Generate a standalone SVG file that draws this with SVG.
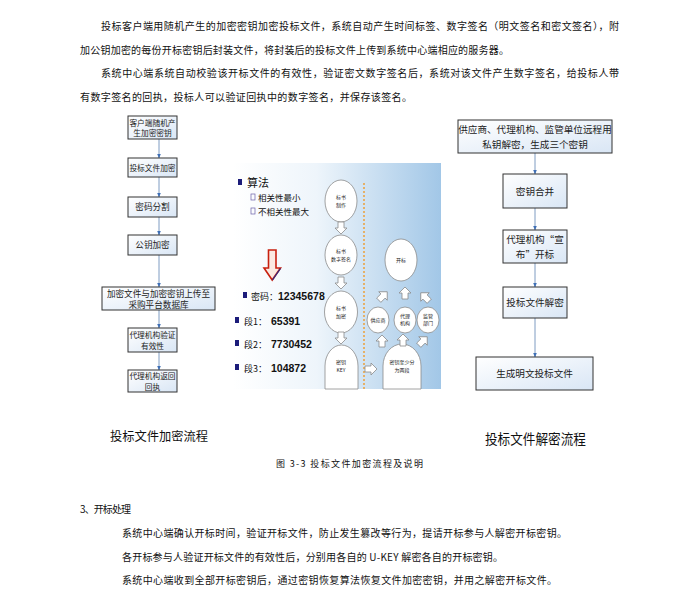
<svg xmlns="http://www.w3.org/2000/svg" width="700" height="598" viewBox="0 0 700 598">
<defs>
<linearGradient id="boxg" x1="0" y1="0" x2="1" y2="1">
<stop offset="0" stop-color="#ffffff"/><stop offset="1" stop-color="#d9e6f5"/>
</linearGradient>
<linearGradient id="bg" x1="0" y1="0" x2="1" y2="0">
<stop offset="0" stop-color="#ffffff"/><stop offset="0.4" stop-color="#eef5fb"/><stop offset="1" stop-color="#a2c7e7"/>
</linearGradient>
<marker id="ah" viewBox="0 0 10 10" refX="9" refY="5" markerWidth="5" markerHeight="5" orient="auto">
<path d="M0,1 L10,5 L0,9 z" fill="#3f6fb5"/>
</marker>
<path id="harrow" d="M-3,-6 H3 V0 H6 L0,6 L-6,0 H-3 Z" fill="#fff" stroke="#8a8a8a" stroke-width="0.8"/>
</defs>
<style>
text{font-family:"Noto Sans CJK SC","Noto Sans",sans-serif;fill:#111}
.p{font-size:10px}
.b{fill:url(#boxg);stroke:#333;stroke-width:1}
.bt{font-size:7.7px;text-anchor:middle;fill:#222}
.bw{font-size:8.6px;text-anchor:middle;fill:#222}
.rt{font-size:9.6px;text-anchor:middle;fill:#222}
.c{fill:#fff;stroke:#8a8a8a;stroke-width:0.8}
.ct{font-size:5px;text-anchor:middle;fill:#222}
.ln{stroke:#7f9cc2;stroke-width:1;fill:none;marker-end:url(#ah)}
.bul{fill:#1c1c7a}
.num{font-family:"Liberation Sans",Arial,sans-serif;font-weight:bold;font-size:10.5px}
.cj{font-size:9px}
</style>

<!-- top paragraph -->
<g id="para-top">
<text class="p" x="101" y="30" textLength="518" lengthAdjust="spacing">投标客户端用随机产生的加密密钥加密投标文件，系统自动产生时间标签、数字签名（明文签名和密文签名），附</text>
<text class="p" x="80" y="54" textLength="429" lengthAdjust="spacing">加公钥加密的每份开标密钥后封装文件，将封装后的投标文件上传到系统中心端相应的服务器。</text>
<text class="p" x="101" y="77" textLength="518" lengthAdjust="spacing">系统中心端系统自动校验该开标文件的有效性，验证密文数字签名后，系统对该文件产生数字签名，给投标人带</text>
<text class="p" x="80" y="101" textLength="332" lengthAdjust="spacing">有数字签名的回执，投标人可以验证回执中的数字签名，并保存该签名。</text>
</g>

<g id="connectors">
<line class="ln" x1="159" y1="139" x2="159" y2="158"/>
<line class="ln" x1="159" y1="177" x2="159" y2="197"/>
<line class="ln" x1="159" y1="217" x2="159" y2="235"/>
<line class="ln" x1="159" y1="255" x2="159" y2="287"/>
<line class="ln" x1="159" y1="310" x2="159" y2="328"/>
<line class="ln" x1="159" y1="352" x2="159" y2="370"/>
<line class="ln" x1="535" y1="153" x2="535" y2="174"/>
<line class="ln" x1="535" y1="208" x2="535" y2="230"/>
<line class="ln" x1="535" y1="263" x2="535" y2="287"/>
<line class="ln" x1="535" y1="318" x2="535" y2="357"/>
</g>

<!-- left flowchart -->
<g id="l1"><rect class="b" x="128" y="116" width="49" height="23"/><text class="bt" x="152.5" y="125.5">客户端随机产</text><text class="bt" x="152.5" y="136">生加密密钥</text></g>
<g id="l2"><rect class="b" x="128" y="158" width="49" height="19"/><text class="bt" x="152.5" y="170.5">投标文件加密</text></g>
<g id="l3"><rect class="b" x="128" y="197" width="49" height="20"/><text class="bw" x="152.5" y="210">密码分割</text></g>
<g id="l4"><rect class="b" x="128" y="235" width="49" height="20"/><text class="bw" x="152.5" y="248">公钥加密</text></g>
<g id="l5"><rect class="b" x="102" y="287" width="113" height="23"/><text class="bw" x="158.5" y="297">加密文件与加密密钥上传至</text><text class="bw" x="158.5" y="307.5">采购平台数据库</text></g>
<g id="l6"><rect class="b" x="128" y="328" width="49" height="24"/><text class="bt" x="152.5" y="337.5">代理机构验证</text><text class="bt" x="152.5" y="348.5">有效性</text></g>
<g id="l7"><rect class="b" x="128" y="370" width="49" height="22"/><text class="bt" x="152.5" y="379">代理机构返回</text><text class="bt" x="152.5" y="389.5">回执</text></g>

<!-- right flowchart -->
<g id="r1"><rect class="b" x="458" y="120" width="154" height="33"/><text class="rt" x="535" y="133">供应商、代理机构、监管单位远程用</text><text class="rt" x="535" y="148">私钥解密，生成三个密钥</text></g>
<g id="r2"><rect class="b" x="503" y="174" width="64" height="34"/><text class="rt" x="535" y="194.5">密钥合并</text></g>
<g id="r3"><rect class="b" x="503" y="230" width="64" height="33"/><text class="rt" x="535" y="243">代理机构“宣</text><text class="rt" x="535" y="258">布”开标</text></g>
<g id="r4"><rect class="b" x="503" y="287" width="64" height="31"/><text class="rt" x="535" y="306">投标文件解密</text></g>
<g id="r5"><rect class="b" x="476" y="357" width="117" height="33"/><text class="rt" x="534.5" y="377">生成明文投标文件</text></g>

<!-- middle illustration -->
<g id="illustration">
<rect x="233" y="163" width="208" height="226" fill="url(#bg)"/>
<rect class="bul" x="238" y="179" width="4" height="6"/>
<text x="247" y="187" font-size="11">算法</text>
<rect x="251" y="194" width="4" height="6" fill="none" stroke="#6a5fa8" stroke-width="0.7"/>
<text x="258" y="201" font-size="8.5">相关性最小</text>
<rect x="251" y="208" width="4" height="6" fill="none" stroke="#6a5fa8" stroke-width="0.7"/>
<text x="258" y="215" font-size="8.5">不相关性最大</text>
<path d="M268.5,250 H276 V268 H280.5 L272.2,280 L264,268 H268.5 Z" fill="#fbe9e2" stroke="#c8200f" stroke-width="1.6"/>
<path d="M272.5,280 L280.5,268.5" stroke="#2a2a8a" stroke-width="1.2"/>
<rect class="bul" x="243" y="292" width="4" height="6"/>
<text class="cj" x="251" y="300">密码：</text><text class="num" x="278" y="300" font-size="10">12345678</text>
<rect class="bul" x="235" y="317" width="4" height="6"/>
<text class="cj" x="244" y="325">段1：</text><text class="num" x="271" y="325">65391</text>
<rect class="bul" x="235" y="340" width="4" height="6"/>
<text class="cj" x="244" y="348">段2：</text><text class="num" x="271" y="348">7730452</text>
<rect class="bul" x="235" y="364" width="4" height="6"/>
<text class="cj" x="244" y="372">段3：</text><text class="num" x="271" y="372">104872</text>

<line x1="364" y1="183" x2="364" y2="389" stroke="#f0961e" stroke-width="1.3" stroke-dasharray="2,2"/>

<ellipse class="c" cx="341" cy="201" rx="16" ry="21"/><text class="ct" x="341" y="199">标书</text><text class="ct" x="341" y="207">制作</text>
<ellipse class="c" cx="341" cy="255" rx="16" ry="20"/><text class="ct" x="341" y="253">标书</text><text class="ct" x="341" y="261">数字签名</text>
<ellipse class="c" cx="341" cy="312" rx="16.5" ry="21"/><text class="ct" x="341" y="310">标书</text><text class="ct" x="341" y="318">加密</text>
<path d="M325,389 V366 A16.5,21 0 0 1 358,366 V389 Z" class="c"/><text class="ct" x="341" y="364">密钥</text><text class="ct" x="341" y="372">KEY</text>
<use href="#harrow" x="341" y="228"/>
<use href="#harrow" x="341" y="283"/>
<use href="#harrow" x="341" y="338"/>

<ellipse class="c" cx="401" cy="260" rx="16" ry="21"/><text class="ct" x="401" y="262" font-size="6">开标</text>
<ellipse class="c" cx="378" cy="320" rx="11" ry="13"/><text class="ct" x="378" y="322">供应商</text>
<ellipse class="c" cx="405" cy="320" rx="11" ry="13"/><text class="ct" x="405" y="318">代理</text><text class="ct" x="405" y="325">机构</text>
<ellipse class="c" cx="428" cy="320" rx="11" ry="13"/><text class="ct" x="428" y="318">监管</text><text class="ct" x="428" y="325">部门</text>
<path d="M383,389 V366 A19,22 0 0 1 421,366 V389 Z" class="c"/><text class="ct" x="402" y="364">密钥至少分</text><text class="ct" x="402" y="372">为两段</text>
<use href="#harrow" transform="translate(371,369) rotate(-90)"/>
<use href="#harrow" transform="translate(383,296) rotate(-135)"/>
<use href="#harrow" transform="translate(405,293) rotate(180)"/>
<use href="#harrow" transform="translate(425,297) rotate(135)"/>
<use href="#harrow" transform="translate(382,341) rotate(180)"/>
<use href="#harrow" transform="translate(403,340) rotate(180)"/>
<use href="#harrow" transform="translate(423,341) rotate(-135)"/>
</g>

<!-- captions -->
<g id="captions">
<text x="110" y="441" font-size="12.5" fill="#333" textLength="98" lengthAdjust="spacingAndGlyphs">投标文件加密流程</text>
<text x="485" y="444" font-size="14" fill="#333" textLength="101" lengthAdjust="spacingAndGlyphs">投标文件解密流程</text>
<text x="276" y="467" font-size="9" textLength="147" lengthAdjust="spacing">图 3-3 投标文件加密流程及说明</text>
</g>

<!-- bottom paragraph -->
<g id="para-bottom">
<text class="p" x="80" y="513" textLength="51" lengthAdjust="spacing">3、开标处理</text>
<text class="p" x="122" y="537" textLength="445" lengthAdjust="spacing">系统中心端确认开标时间，验证开标文件，防止发生篡改等行为，提请开标参与人解密开标密钥。</text>
<text class="p" x="122" y="561" textLength="381" lengthAdjust="spacing">各开标参与人验证开标文件的有效性后，分别用各自的 U-KEY 解密各自的开标密钥。</text>
<text class="p" x="122" y="584" textLength="435" lengthAdjust="spacing">系统中心端收到全部开标密钥后，通过密钥恢复算法恢复文件加密密钥，并用之解密开标文件。</text>
</g>
</svg>
